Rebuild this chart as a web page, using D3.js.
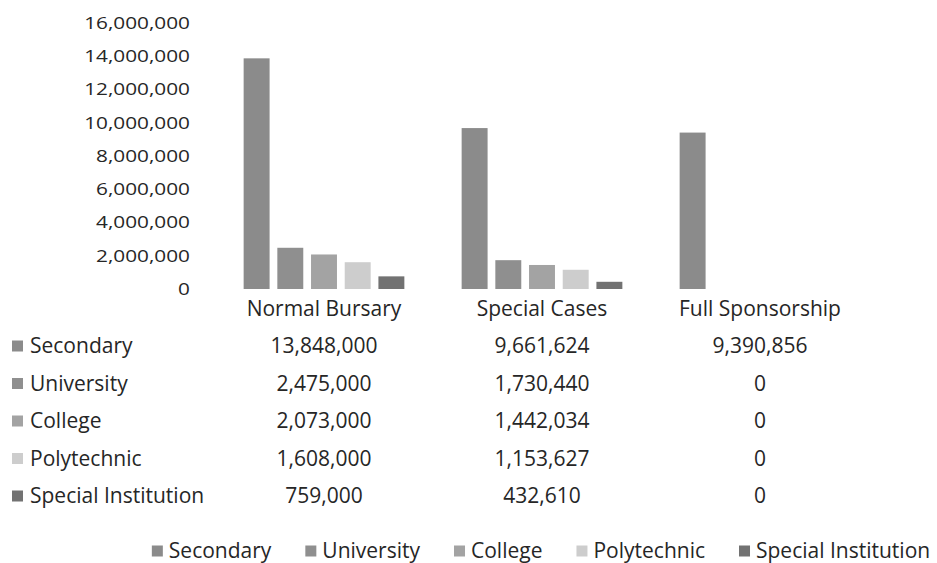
<!DOCTYPE html>
<html>
<head>
<meta charset="utf-8">
<script src="https://cdn.jsdelivr.net/npm/d3@7"></script>
<style>
  html, body { margin: 0; padding: 0; background: #fff; }
  svg { display: block; }
  text { font-family: "Open Sans", sans-serif; fill: #262626; }
</style>
</head>
<body>
<svg id="chart" width="937" height="563"></svg>
<script>
// Bursary allocations by programme and institution type
const categories = ["Normal Bursary", "Special Cases", "Full Sponsorship"];
const seriesNames = ["Secondary", "University", "College", "Polytechnic", "Special Institution"];
const secondary = [13848000, 9661624, 9390856];
const university = [2475000, 1730440, 0];
const college = [2073000, 1442034, 0];
const polytechnic = [1608000, 1153627, 0];
const specialInstitution = [759000, 432610, 0];
const yTicks = [0, 2000000, 4000000, 6000000, 8000000, 10000000, 12000000, 14000000, 16000000];
const seriesColors = ["#8b8b8b", "#8f8f8f", "#a3a3a3", "#cdcdcd", "#727272"];

const seriesValues = [secondary, university, college, polytechnic, specialInstitution];

const svg = d3.select("#chart");
const fmt = d3.format(",");
const FONT = "21px";

const x = d3.scaleBand().domain(categories).range([215, 869]).paddingInner(0).paddingOuter(0);
const xInner = d3.scaleBand().domain(seriesNames).range([0, x.bandwidth()])
  .paddingInner(0.23).paddingOuter(0.85);
const y = d3.scaleLinear().domain([0, 16000000]).range([289, 22.5]);
const color = d3.scaleOrdinal().domain(seriesNames).range(seriesColors);

// Value axis labels (no axis line, no gridlines)
const yLab = svg.append("g").attr("class", "y-labels");
yLab.selectAll("g").data(yTicks).join("g")
  .attr("transform", d => `translate(190,${y(d) + 0.5})`)
  .append("text")
  .attr("transform", "scale(1.3,1)")
  .attr("text-anchor", "end")
  .attr("dy", "0.35em")
  .style("font-size", "16px")
  .text(d => fmt(d));

// Bars
const groups = svg.append("g").selectAll("g").data(categories).join("g")
  .attr("transform", d => `translate(${x(d)},0)`);
groups.selectAll("rect")
  .data((c, ci) => seriesNames.map((s, si) => ({ s, v: seriesValues[si][ci] })))
  .join("rect")
  .attr("x", d => xInner(d.s))
  .attr("width", xInner.bandwidth())
  .attr("y", d => y(d.v))
  .attr("height", d => y(0) - y(d.v))
  .attr("fill", d => color(d.s));

// Category labels
svg.append("g").selectAll("text").data(categories).join("text")
  .attr("x", d => x(d) + x.bandwidth() / 2)
  .attr("y", 309)
  .attr("dy", "0.35em")
  .attr("text-anchor", "middle")
  .style("font-size", FONT)
  .text(d => d);

// Data table
const rowY = d3.scalePoint().domain(seriesNames).range([346, 496]);
const rows = svg.append("g").selectAll("g").data(seriesNames).join("g")
  .attr("transform", d => `translate(0,${rowY(d)})`);
rows.append("rect")
  .attr("x", 12).attr("y", -5.5).attr("width", 11).attr("height", 11)
  .attr("fill", d => color(d));
rows.append("text")
  .attr("x", 30).attr("dy", "0.35em")
  .style("font-size", FONT)
  .text(d => d);
rows.selectAll("text.val")
  .data((s, si) => categories.map((c, ci) => ({ c, v: seriesValues[si][ci] })))
  .join("text")
  .attr("class", "val")
  .attr("x", d => x(d.c) + x.bandwidth() / 2)
  .attr("dy", "0.35em")
  .attr("text-anchor", "middle")
  .style("font-size", FONT)
  .text(d => fmt(d.v));

// Legend (flow layout, centred)
const legend = svg.append("g");
const items = legend.selectAll("g").data(seriesNames).join("g");
items.append("rect")
  .attr("x", 0).attr("y", -5.5).attr("width", 11).attr("height", 11)
  .attr("fill", d => color(d));
items.append("text")
  .attr("x", 17).attr("dy", "0.35em")
  .style("font-size", FONT)
  .text(d => d);
const gap = 34;
let cursor = 0;
const offsets = [];
items.each(function () {
  offsets.push(cursor);
  const w = d3.select(this).select("text").node().getComputedTextLength();
  cursor += 17 + w + gap;
});
const totalW = cursor - gap;
const startX = 541 - totalW / 2;
items.attr("transform", (d, i) => `translate(${startX + offsets[i]},551)`);
</script>
</body>
</html>
